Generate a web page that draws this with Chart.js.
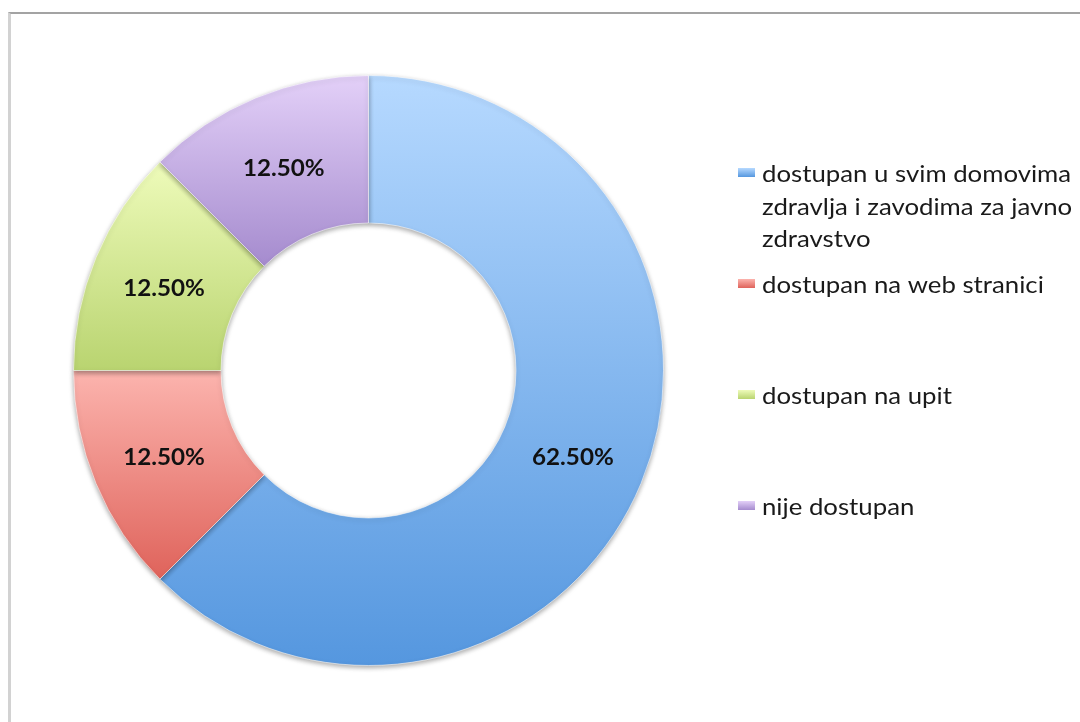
<!DOCTYPE html>
<html>
<head>
<meta charset="utf-8">
<script src="https://cdn.jsdelivr.net/npm/chart.js@4.4.1/dist/chart.umd.min.js"></script>
<style>
  html, body { margin: 0; padding: 0; background: #ffffff; }
  #wrap { position: relative; width: 1080px; height: 722px; overflow: hidden; }
  #frame { position: absolute; left: 8px; top: 12px; width: 1200px; height: 900px;
           border-top: 2px solid #a3a3a3; border-left: 3px solid #d2d2d2; box-sizing: border-box; }
  canvas { position: absolute; left: 0; top: 0; }
</style>
</head>
<body>
<div id="wrap">
  <div id="frame"></div>
  <canvas id="c" width="1080" height="722"></canvas>
</div>
<script>
// ---- data ----
const categories = [
  'dostupan u svim domovima zdravlja i zavodima za javno zdravstvo',
  'dostupan na web stranici',
  'dostupan na upit',
  'nije dostupan'
];
const shares = [62.5, 12.5, 12.5, 12.5];
const valueLabels = ['62.50%', '12.50%', '12.50%', '12.50%'];

// ---- styles ----
const gradTop = ['#b6d9ff', '#fcb4ae', '#eefbba', '#e3d0f8'];
const gradBottom = ['#5597df', '#df635b', '#b9d470', '#a58bce'];
const FONT = 'Lato, "Open Sans", sans-serif';
const STRETCH = 1.12;

function arcYRange(el) {
  const p = el.getProps(['x', 'y', 'startAngle', 'endAngle', 'innerRadius', 'outerRadius'], true);
  let minY = Infinity, maxY = -Infinity;
  const n = 60;
  for (let i = 0; i <= n; i++) {
    const a = p.startAngle + (p.endAngle - p.startAngle) * i / n;
    for (const r of [p.innerRadius, p.outerRadius]) {
      const y = p.y + r * Math.sin(a);
      if (y < minY) minY = y;
      if (y > maxY) maxY = y;
    }
  }
  return [minY, maxY];
}

const gradientPlugin = {
  id: 'segGradient',
  beforeDatasetDraw(chart, args) {
    const ctx = chart.ctx;
    const meta = args.meta;
    meta.data.forEach((el, i) => {
      const [y0, y1] = arcYRange(el);
      const g = ctx.createLinearGradient(0, y0, 0, y1);
      g.addColorStop(0, gradTop[i]);
      g.addColorStop(1, gradBottom[i]);
      el.options.backgroundColor = g;
    });
    ctx.save();
    ctx.shadowColor = 'rgba(0,0,0,0.35)';
    ctx.shadowBlur = 5;
    ctx.shadowOffsetX = 0;
    ctx.shadowOffsetY = 2;
  },
  afterDatasetDraw(chart) {
    chart.ctx.restore();
  }
};

const labelPlugin = {
  id: 'valueLabels',
  afterDatasetsDraw(chart) {
    const ctx = chart.ctx;
    const meta = chart.getDatasetMeta(0);
    meta.data.forEach((el, i) => {
      const pos = el.tooltipPosition();
      ctx.save();
      ctx.font = 'bold 22px ' + FONT;
      ctx.fillStyle = '#111111';
      ctx.textAlign = 'center';
      ctx.textBaseline = 'middle';
      ctx.translate(pos.x, pos.y + 3);
      ctx.scale(1.1, 1);
      ctx.fillText(valueLabels[i], 0, 0);
      ctx.restore();
    });
  }
};

const legendPlugin = {
  id: 'sideLegend',
  afterDraw(chart) {
    const ctx = chart.ctx;
    const labels = chart.data.labels;
    const x0 = 762, firstBaseline = 182, slot = 111, lineH = 32.5, maxW = 314;
    ctx.save();
    ctx.font = '23px ' + FONT;
    ctx.textAlign = 'left';
    ctx.textBaseline = 'alphabetic';
    labels.forEach((lab, i) => {
      const base = firstBaseline + i * slot;
      // marker
      const g = ctx.createLinearGradient(0, base - 14, 0, base - 5);
      g.addColorStop(0, gradTop[i]);
      g.addColorStop(1, gradBottom[i]);
      ctx.fillStyle = g;
      ctx.fillRect(738, base - 14, 17, 9);
      // wrapped text
      const words = lab.split(' ');
      const lines = [];
      let cur = '';
      words.forEach(w => {
        const t = cur ? cur + ' ' + w : w;
        if (ctx.measureText(t).width * STRETCH > maxW && cur) { lines.push(cur); cur = w; }
        else cur = t;
      });
      if (cur) lines.push(cur);
      ctx.fillStyle = '#1a1a1a';
      lines.forEach((ln, k) => {
        ctx.save();
        ctx.translate(x0, base + k * lineH);
        ctx.scale(STRETCH, 1);
        ctx.fillText(ln, 0, 0);
        ctx.restore();
      });
    });
    ctx.restore();
  }
};

new Chart(document.getElementById('c'), {
  type: 'doughnut',
  data: {
    labels: categories,
    datasets: [{
      data: shares,
      backgroundColor: gradBottom,
      borderColor: 'rgba(255,255,255,0.55)',
      borderWidth: 1
    }]
  },
  options: {
    responsive: false,
    animation: false,
    cutout: '50%',
    layout: { padding: { left: 73, top: 75, right: 416, bottom: 56 } },
    plugins: {
      legend: { display: false },
      tooltip: { enabled: false },
      title: { display: false }
    }
  },
  plugins: [gradientPlugin, labelPlugin, legendPlugin]
});
</script>
</body>
</html>
